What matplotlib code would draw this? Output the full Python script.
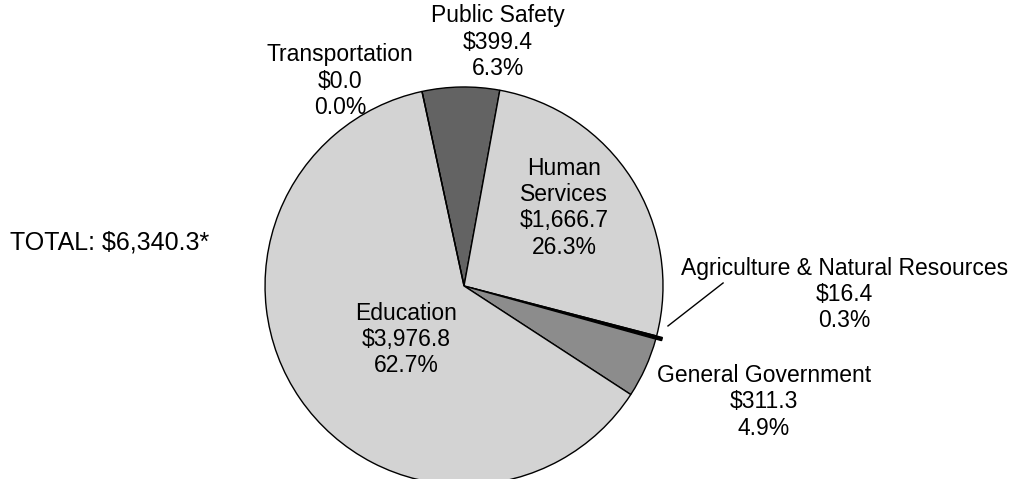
import matplotlib
matplotlib.use("Agg")
import matplotlib.pyplot as plt

# Spending by function ($ millions)
categories = ["Public Safety", "Human Services", "Agriculture & Natural Resources",
              "General Government", "Education", "Transportation"]
amounts = [399.4, 1666.7, 16.4, 311.3, 3976.8, 0.0]
amount_labels = ["$399.4", "$1,666.7", "$16.4", "$311.3", "$3,976.8", "$0.0"]
pct_labels = ["6.3%", "26.3%", "0.3%", "4.9%", "62.7%", "0.0%"]
total_label = "TOTAL: $6,340.3*"

colors = ["#636363", "#d3d3d3", "#000000", "#8c8c8c", "#d3d3d3", "#d3d3d3"]
explode = [0, 0, 0.03, 0, 0, 0]

plt.rcParams['font.family'] = ['Liberation Sans', 'DejaVu Sans']

fig = plt.figure(figsize=(10.14, 4.79), dpi=100)
ax = fig.add_axes([0, 0, 1, 1])

ax.pie(amounts, colors=colors, explode=explode, startangle=102.2, counterclock=False,
       radius=1.0, wedgeprops=dict(edgecolor="black", linewidth=1.0))

# label positions (data units, pie radius = 1)
label_pos = {
    "Public Safety": (0.171, 1.226),
    "Human Services": (0.503, 0.392),
    "Agriculture & Natural Resources": (1.911, -0.045),
    "General Government": (1.508, -0.583),
    "Education": (-0.289, -0.271),
    "Transportation": (-0.623, 1.03),
}
for name, amt, pct in zip(categories, amount_labels, pct_labels):
    x, y = label_pos[name]
    shown = "Human\nServices" if name == "Human Services" else name
    ax.text(x, y, f"{shown}\n{amt}\n{pct}", ha="center", va="center",
            fontsize=16.5, linespacing=1.17)

# leader line for agriculture
ax.plot([1.025, 1.302], [-0.201, 0.015], color="black", linewidth=1.0)

ax.text(-2.281, 0.216, total_label, ha="left", va="center", fontsize=18)

ax.set_xlim(-2.332, 2.764)
ax.set_ylim(-0.970, 1.437)
ax.set_aspect("equal")
ax.axis("off")

fig.savefig("out.png", dpi=100)
